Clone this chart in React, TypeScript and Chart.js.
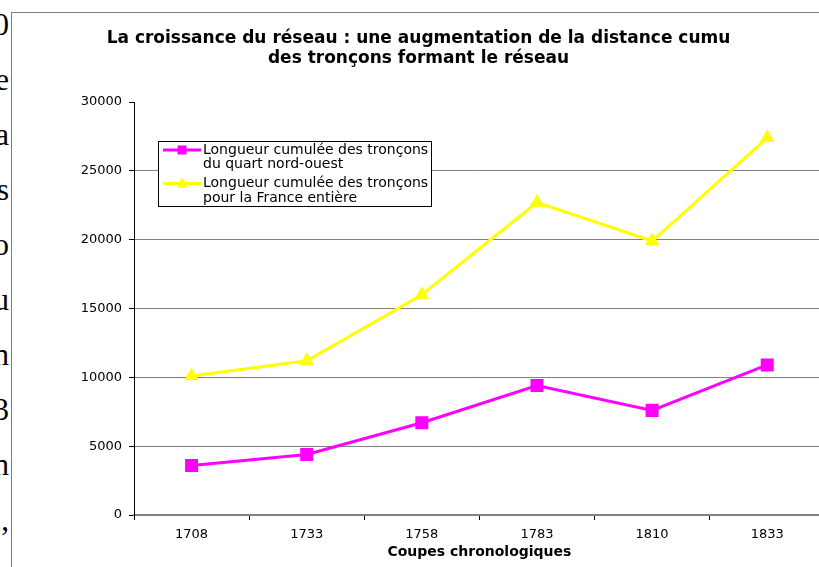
import React, { useEffect, useRef } from "react";
import { Chart, registerables } from "chart.js";

Chart.register(...registerables);

// ---- Data ----
const categories = ["1708", "1733", "1758", "1783", "1810", "1833"];
const nordOuestValues = [3600, 4400, 6700, 9400, 7600, 10900];
const franceValues = [10100, 11200, 16000, 22700, 19900, 27400];
const seriesLabels = [
  ["Longueur cumulée des tronçons", "du quart nord-ouest"],
  ["Longueur cumulée des tronçons", "pour la France entière"],
];
const titleLines = [
  "La croissance du réseau : une augmentation de la distance cumu",
  "des tronçons formant le réseau",
];
const xAxisTitle = "Coupes chronologiques";
const yMin = 0;
const yMax = 30000;
const yStep = 5000;
const marginChars = ["0", "e", "a", "s", "o", "u", "n", "3", "n", ","];

const FONT = "'DejaVu Sans', Verdana, sans-serif";

const legendPlugin = {
  id: "boxLegend",
  afterDraw(chart: any) {
    const { ctx, chartArea } = chart;
    const x = Math.round(chartArea.left + 24);
    const y = Math.round(chartArea.top + 39);
    const w = 274;
    const h = 66;
    ctx.save();
    ctx.fillStyle = "#ffffff";
    ctx.fillRect(x, y, w, h);
    ctx.strokeStyle = "#000000";
    ctx.lineWidth = 1;
    ctx.strokeRect(x + 0.5, y + 0.5, w - 1, h - 1);
    ctx.beginPath();
    ctx.rect(x + 1, y + 1, w - 2, h - 2);
    ctx.clip();
    chart.data.datasets.forEach((ds: any, i: number) => {
      const cy = y + 9 + i * 33.5;
      ctx.strokeStyle = ds.borderColor;
      ctx.lineWidth = 3;
      ctx.beginPath();
      ctx.moveTo(x + 5, cy);
      ctx.lineTo(x + 43, cy);
      ctx.stroke();
      ctx.fillStyle = ds.backgroundColor;
      const mx = x + 24;
      if (ds.pointStyle === "rect") {
        ctx.fillRect(mx - 4.5, cy - 4.5, 9, 9);
      } else {
        ctx.beginPath();
        ctx.moveTo(mx, cy - 6);
        ctx.lineTo(mx + 5.5, cy + 4);
        ctx.lineTo(mx - 5.5, cy + 4);
        ctx.closePath();
        ctx.fill();
      }
      ctx.fillStyle = "#000000";
      ctx.font = `14px ${FONT}`;
      ctx.textBaseline = "middle";
      ctx.textAlign = "left";
      seriesLabels[i].forEach((t, j) => {
        ctx.fillText(t, x + 45, cy + j * 14.5);
      });
    });
    ctx.restore();
  },
};

export default function App() {
  const ref = useRef<HTMLCanvasElement>(null);
  useEffect(() => {
    const chart = new Chart(ref.current as HTMLCanvasElement, {
      type: "line",
      data: {
        labels: categories,
        datasets: [
          {
            label: seriesLabels[0].join(" "),
            data: nordOuestValues,
            borderColor: "#ff00ff",
            backgroundColor: "#ff00ff",
            borderWidth: 3,
            pointStyle: "rect",
            pointRadius: 9.2,
            pointBorderWidth: 0,
            pointBackgroundColor: "#ff00ff",
            tension: 0,
          },
          {
            label: seriesLabels[1].join(" "),
            data: franceValues,
            borderColor: "#ffff00",
            backgroundColor: "#ffff00",
            borderWidth: 3,
            pointStyle: "triangle",
            pointRadius: 8.5,
            pointBorderWidth: 0,
            pointBackgroundColor: "#ffff00",
            tension: 0,
          },
        ],
      },
      options: {
        responsive: false,
        animation: false,
        layout: { padding: { left: 0, right: 9, top: 0, bottom: 0 } },
        plugins: {
          legend: { display: false },
          tooltip: { enabled: false },
          title: {
            display: true,
            text: titleLines,
            color: "#000000",
            font: { family: FONT, size: 17, weight: "bold", lineHeight: 20 / 17 },
            padding: { top: 16, bottom: 33 },
          },
        },
        scales: {
          x: {
            offset: true,
            grid: {
              drawOnChartArea: false,
              drawTicks: true,
              tickLength: 5,
              color: "#000000",
              offset: true,
            },
            border: { color: "#808080", width: 2 },
            ticks: {
              color: "#000000",
              font: { family: FONT, size: 13 },
              padding: 7,
              maxRotation: 0,
            },
            title: {
              display: true,
              text: xAxisTitle,
              color: "#000000",
              font: { family: FONT, size: 14, weight: "bold" },
              padding: { top: 0, bottom: 12 },
            },
            afterFit: (s: any) => {
              s.height = 58;
            },
          },
          y: {
            min: yMin,
            max: yMax,
            ticks: {
              stepSize: yStep,
              color: "#000000",
              font: { family: FONT, size: 13 },
              padding: 7,
              callback: (v: any) => String(v),
            },
            grid: {
              color: (c: any) => (c.tick && c.tick.value === yMax ? "rgba(0,0,0,0)" : "#808080"),
              tickColor: "#000000",
              tickLength: 5,
              lineWidth: 1,
            },
            border: { color: "#000000", width: 1 },
            afterFit: (s: any) => {
              s.width = 122;
            },
          },
        },
      },
      plugins: [legendPlugin],
    } as any);
    return () => chart.destroy();
  }, []);

  return (
    <div
      style={{
        position: "fixed",
        left: 0,
        top: 0,
        width: 819,
        height: 567,
        overflow: "hidden",
        background: "#ffffff",
      }}
    >
      <div
        style={{
          position: "absolute",
          left: -100,
          top: -3,
          width: 109,
          textAlign: "right",
          fontFamily: "'Liberation Serif', 'DejaVu Serif', serif",
          fontSize: 31,
          lineHeight: "55px",
          color: "#000000",
        }}
      >
        {marginChars.map((c, i) => (
          <div key={i}>{c}</div>
        ))}
      </div>
      <canvas
        ref={ref}
        width={822}
        height={560}
        style={{ position: "absolute", left: 12, top: 13, display: "block", width: 822, height: 560 }}
      />
      <div style={{ position: "absolute", left: 11, top: 12, width: 808, height: 1, background: "#808080" }} />
      <div style={{ position: "absolute", left: 11, top: 12, width: 1, height: 555, background: "#808080" }} />
    </div>
  );
}
